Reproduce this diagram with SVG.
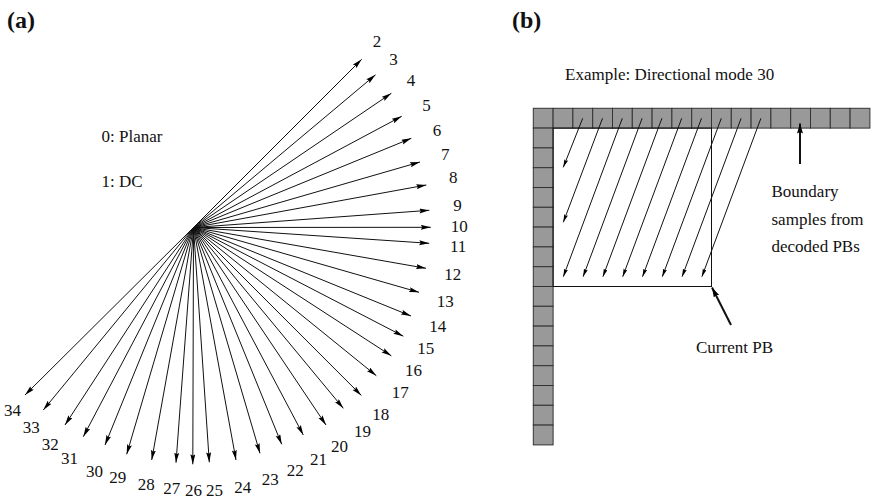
<svg xmlns="http://www.w3.org/2000/svg" width="877" height="500" viewBox="0 0 877 500">
<defs>
<marker id="ah" markerUnits="userSpaceOnUse" markerWidth="11" markerHeight="6" refX="10" refY="2.5" orient="auto">
<path d="M0,0 L10,2.5 L0,5 L1.5,2.5 z" fill="#000"/>
</marker>
<marker id="ahs" markerUnits="userSpaceOnUse" markerWidth="9" markerHeight="5" refX="8" refY="2" orient="auto">
<path d="M0,0 L8,2 L0,4 L1.2,2 z" fill="#000"/>
</marker>
<marker id="ahb" markerUnits="userSpaceOnUse" markerWidth="11" markerHeight="7" refX="10" refY="3" orient="auto">
<path d="M0,0 L10,3 L0,6 L1.5,3 z" fill="#000"/>
</marker>
</defs>
<style>
text{font-family:"Liberation Serif","Times New Roman",serif;font-size:17px;fill:#111}
.hd{font-size:24px;font-weight:bold}
.ray{stroke:#111;stroke-width:1;fill:none;marker-end:url(#ah)}
.pr{stroke:#111;stroke-width:1;fill:none;marker-end:url(#ahs)}
.big{stroke:#111;stroke-width:2;fill:none;marker-end:url(#ahb)}
.cell{fill:#999;stroke:#333;stroke-width:1}
</style>
<rect width="877" height="500" fill="#fff"/>
<text class="hd" x="7" y="28">(a)</text>
<text class="hd" x="512" y="28">(b)</text>

<g id="panel-a-labels">
<text x="101.5" y="141.5">0: Planar</text>
<text x="101.5" y="186.5">1: DC</text>
</g>

<g id="connectors-a">
<line class="ray" x1="193.5" y1="227.5" x2="361.7" y2="59.3"/>
<line class="ray" x1="193.5" y1="227.5" x2="375.5" y2="74.8"/>
<line class="ray" x1="193.5" y1="227.5" x2="391.3" y2="93.3"/>
<line class="ray" x1="193.5" y1="227.5" x2="401.7" y2="116.3"/>
<line class="ray" x1="193.5" y1="227.5" x2="411.3" y2="138.3"/>
<line class="ray" x1="193.5" y1="227.5" x2="420" y2="162"/>
<line class="ray" x1="193.5" y1="227.5" x2="426.3" y2="185"/>
<line class="ray" x1="193.5" y1="227.5" x2="429.3" y2="210.3"/>
<line class="ray" x1="193.5" y1="227.5" x2="430.8" y2="227.3"/>
<line class="ray" x1="193.5" y1="227.5" x2="429.2" y2="243.3"/>
<line class="ray" x1="193.5" y1="227.5" x2="426" y2="268.3"/>
<line class="ray" x1="193.5" y1="227.5" x2="419" y2="292.3"/>
<line class="ray" x1="193.5" y1="227.5" x2="411" y2="316"/>
<line class="ray" x1="193.5" y1="227.5" x2="403.3" y2="336.2"/>
<line class="ray" x1="193.5" y1="227.5" x2="391.3" y2="355.8"/>
<line class="ray" x1="193.5" y1="227.5" x2="376.3" y2="375.7"/>
<line class="ray" x1="193.5" y1="227.5" x2="361.3" y2="395.4"/>
<line class="ray" x1="193.5" y1="227.5" x2="343.3" y2="408.3"/>
<line class="ray" x1="193.5" y1="227.5" x2="326" y2="425"/>
<line class="ray" x1="193.5" y1="227.5" x2="303.3" y2="435"/>
<line class="ray" x1="193.5" y1="227.5" x2="281.7" y2="444.3"/>
<line class="ray" x1="193.5" y1="227.5" x2="260" y2="453.3"/>
<line class="ray" x1="193.5" y1="227.5" x2="236" y2="460"/>
<line class="ray" x1="193.5" y1="227.5" x2="209.3" y2="462.3"/>
<line class="ray" x1="193.5" y1="227.5" x2="192.8" y2="464.3"/>
<line class="ray" x1="193.5" y1="227.5" x2="176" y2="462.7"/>
<line class="ray" x1="193.5" y1="227.5" x2="151.7" y2="460"/>
<line class="ray" x1="193.5" y1="227.5" x2="126.7" y2="454.3"/>
<line class="ray" x1="193.5" y1="227.5" x2="105" y2="445"/>
<line class="ray" x1="193.5" y1="227.5" x2="83.3" y2="436.7"/>
<line class="ray" x1="193.5" y1="227.5" x2="65" y2="425"/>
<line class="ray" x1="193.5" y1="227.5" x2="43.3" y2="410"/>
<line class="ray" x1="193.5" y1="227.5" x2="25" y2="395"/>
</g>

<g id="mode-labels">
<text x="372.7" y="46.7">2</text>
<text x="389.3" y="65">3</text>
<text x="406.7" y="86">4</text>
<text x="422.3" y="111">5</text>
<text x="432.7" y="136">6</text>
<text x="441" y="160">7</text>
<text x="449" y="183.3">8</text>
<text x="453.3" y="211">9</text>
<text x="450.7" y="231.7">10</text>
<text x="450" y="252.3">11</text>
<text x="444.3" y="280">12</text>
<text x="436.7" y="307.3">13</text>
<text x="429.3" y="331.7">14</text>
<text x="417.3" y="354">15</text>
<text x="405" y="376">16</text>
<text x="391.7" y="398.3">17</text>
<text x="372.3" y="420">18</text>
<text x="354" y="436.7">19</text>
<text x="331" y="451.7">20</text>
<text x="310" y="465">21</text>
<text x="286.7" y="475.7">22</text>
<text x="261.7" y="485">23</text>
<text x="234.3" y="493.3">24</text>
<text x="206" y="496">25</text>
<text x="185" y="496">26</text>
<text x="163.3" y="494">27</text>
<text x="137.7" y="490">28</text>
<text x="109.3" y="483.3">29</text>
<text x="86" y="476.7">30</text>
<text x="61" y="464">31</text>
<text x="41.7" y="450">32</text>
<text x="22.7" y="433.3">33</text>
<text x="4" y="416">34</text>
</g>

<text x="565" y="80">Example: Directional mode 30</text>

<g id="boundary-top">
<rect class="cell" x="533.3" y="108.3" width="19.8" height="19.8"/>
<rect class="cell" x="553.1" y="108.3" width="19.8" height="19.8"/>
<rect class="cell" x="572.9" y="108.3" width="19.8" height="19.8"/>
<rect class="cell" x="592.7" y="108.3" width="19.8" height="19.8"/>
<rect class="cell" x="612.5" y="108.3" width="19.8" height="19.8"/>
<rect class="cell" x="632.3" y="108.3" width="19.8" height="19.8"/>
<rect class="cell" x="652.1" y="108.3" width="19.8" height="19.8"/>
<rect class="cell" x="671.9" y="108.3" width="19.8" height="19.8"/>
<rect class="cell" x="691.7" y="108.3" width="19.8" height="19.8"/>
<rect class="cell" x="711.5" y="108.3" width="19.8" height="19.8"/>
<rect class="cell" x="731.3" y="108.3" width="19.8" height="19.8"/>
<rect class="cell" x="751.1" y="108.3" width="19.8" height="19.8"/>
<rect class="cell" x="770.9" y="108.3" width="19.8" height="19.8"/>
<rect class="cell" x="790.7" y="108.3" width="19.8" height="19.8"/>
<rect class="cell" x="810.5" y="108.3" width="19.8" height="19.8"/>
<rect class="cell" x="830.3" y="108.3" width="19.8" height="19.8"/>
<rect class="cell" x="850.1" y="108.3" width="19.8" height="19.8"/>
</g>
<g id="boundary-left">
<rect class="cell" x="533.3" y="128.1" width="19.8" height="19.8"/>
<rect class="cell" x="533.3" y="147.9" width="19.8" height="19.8"/>
<rect class="cell" x="533.3" y="167.7" width="19.8" height="19.8"/>
<rect class="cell" x="533.3" y="187.5" width="19.8" height="19.8"/>
<rect class="cell" x="533.3" y="207.3" width="19.8" height="19.8"/>
<rect class="cell" x="533.3" y="227.1" width="19.8" height="19.8"/>
<rect class="cell" x="533.3" y="246.9" width="19.8" height="19.8"/>
<rect class="cell" x="533.3" y="266.7" width="19.8" height="19.8"/>
<rect class="cell" x="533.3" y="286.5" width="19.8" height="19.8"/>
<rect class="cell" x="533.3" y="306.3" width="19.8" height="19.8"/>
<rect class="cell" x="533.3" y="326.1" width="19.8" height="19.8"/>
<rect class="cell" x="533.3" y="345.9" width="19.8" height="19.8"/>
<rect class="cell" x="533.3" y="365.7" width="19.8" height="19.8"/>
<rect class="cell" x="533.3" y="385.5" width="19.8" height="19.8"/>
<rect class="cell" x="533.3" y="405.3" width="19.8" height="19.8"/>
<rect class="cell" x="533.3" y="425.1" width="19.8" height="19.8"/>
</g>

<g id="current-pb">
<rect x="553.1" y="128.1" width="158.4" height="158.4" fill="none" stroke="#111" stroke-width="1"/>
</g>

<g id="connectors-b">
<line class="pr" x1="582.7" y1="118.3" x2="563.3" y2="167.3"/>
<line class="pr" x1="602.5" y1="118.3" x2="563.3" y2="222.3"/>
<line class="pr" x1="622.3" y1="118.3" x2="563.3" y2="276.7"/>
<line class="pr" x1="642.1" y1="118.3" x2="583.1" y2="276.7"/>
<line class="pr" x1="661.9" y1="118.3" x2="602.9" y2="276.7"/>
<line class="pr" x1="681.7" y1="118.3" x2="622.7" y2="276.7"/>
<line class="pr" x1="701.5" y1="118.3" x2="642.5" y2="276.7"/>
<line class="pr" x1="721.3" y1="118.3" x2="662.3" y2="276.7"/>
<line class="pr" x1="741.1" y1="118.3" x2="682.1" y2="276.7"/>
<line class="pr" x1="760.9" y1="118.3" x2="701.9" y2="276.7"/>
<line class="big" x1="800" y1="164" x2="800" y2="123.5"/>
<line class="big" x1="731" y1="325" x2="712" y2="287.5"/>
</g>

<g id="boundary-label">
<text x="771.5" y="196.5">Boundary</text>
<text x="771.5" y="224.5">samples from</text>
<text x="771.5" y="252">decoded PBs</text>
</g>
<g id="pb-label">
<text x="696" y="352.7">Current PB</text>
</g>
</svg>
